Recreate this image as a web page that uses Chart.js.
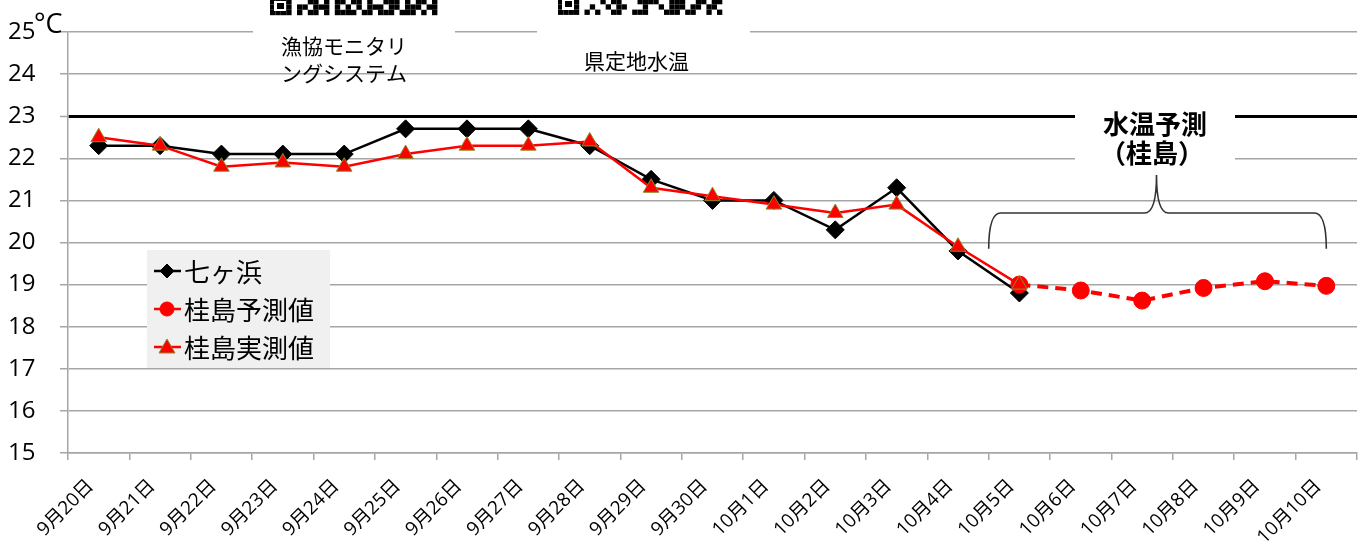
<!DOCTYPE html>
<html><head><meta charset="utf-8">
<script src="https://cdn.jsdelivr.net/npm/chart.js@4"></script>
<style>html,body{margin:0;padding:0;background:#fff}#wrap{width:1367px;height:552px}</style>
</head><body><div id="wrap"><canvas id="c" width="1367" height="552"></canvas></div>
<script>
const categories = ['9月20日','9月21日','9月22日','9月23日','9月24日','9月25日','9月26日','9月27日','9月28日','9月29日','9月30日','10月1日','10月2日','10月3日','10月4日','10月5日','10月6日','10月7日','10月8日','10月9日','10月10日'];
const shichigahama = [22.3,22.3,22.1,22.1,22.1,22.7,22.7,22.7,22.3,21.5,21.0,21.0,20.3,21.3,19.8,18.8,null,null,null,null,null];
const katsurashimaForecast = [null,null,null,null,null,null,null,null,null,null,null,null,null,null,null,19.0,18.86,18.62,18.92,19.08,18.97];
const katsurashimaObserved = [22.5,22.3,21.8,21.9,21.8,22.1,22.3,22.3,22.4,21.3,21.1,20.9,20.7,20.9,19.9,19.0,null,null,null,null,null];
const yTicks = [15,16,17,18,19,20,21,22,23,24,25];
const seriesNames = ['七ヶ浜','桂島予測値','桂島実測値'];

const FONT = "'Open Sans','Noto Sans CJK JP',sans-serif";
const JP = "'Noto Sans CJK JP','Noto Sans',sans-serif";
const GRID = '#a6a6a6';

function qr(ctx, x0, rows, mod) {
  ctx.fillStyle = '#000';
  rows.forEach((r, j) => {
    for (let i = 0; i < r.length; i++) if (r[i] === '1') ctx.fillRect(x0 + i*mod, j*mod - 1, mod, mod);
  });
}

const deco = {
  id: 'deco',
  beforeDatasetsDraw(chart) {
    const ctx = chart.ctx, x = chart.scales.x, y = chart.scales.y;
    ctx.save();
    ctx.fillStyle = '#fff';
    ctx.fillRect(253, 0, 202, 40);
    ctx.fillRect(537, 0, 213, 40);
    ctx.fillRect(1075, 100, 160, 70);
    qr(ctx, 270, ['1111000110101101101001110101101','1001011011101010101110110111011','1111010110101111011011101110101'], 5.4);
    qr(ctx, 558, ['1111000010110001111001110011011','1001001001011000100101110110110','1111010100110011100011101100101'], 5.3);
    ctx.fillStyle='#fff';
    ctx.fillRect(274,1,12,10);ctx.fillStyle='#000';ctx.fillRect(277,3,7,6);
    ctx.fillStyle='#fff';ctx.fillRect(562,0,12,10);ctx.fillStyle='#000';ctx.fillRect(565,1,7,6);
    ctx.fillStyle = '#000';
    ctx.textBaseline = 'middle';
    ctx.textAlign = 'left';
    ctx.font = `21px ${JP}`;
    ctx.fillText('漁協モニタリ', 281, 46);
    ctx.fillText('ングシステム', 281, 73);
    ctx.fillText('県定地水温', 584, 61);
    ctx.textAlign = 'center';
    ctx.font = `bold 26px ${JP}`;
    ctx.fillText('水温予測', 1155, 124);
    ctx.fillText('（桂島）', 1152, 153);
    ctx.textAlign = 'left';
    ctx.textBaseline = 'alphabetic';
    ctx.font = `27px ${FONT}`;
    ctx.fillText('°C', 34, 33);
    const xl = (x.getPixelForValue(14) + x.getPixelForValue(15)) / 2;
    const xr = x.getPixelForValue(20);
    const xm = (xl + xr) / 2 - 1;
    const yb = y.getPixelForValue(19.85), yt = y.getPixelForValue(20.7), yp = 175;
    ctx.strokeStyle = '#333'; ctx.lineWidth = 1.6;
    ctx.beginPath();
    ctx.moveTo(xl, yb);
    ctx.quadraticCurveTo(xl, yt, xl + 12, yt);
    ctx.lineTo(xm - 12, yt);
    ctx.quadraticCurveTo(xm, yt, xm, yp);
    ctx.quadraticCurveTo(xm, yt, xm + 12, yt);
    ctx.lineTo(xr - 12, yt);
    ctx.quadraticCurveTo(xr, yt, xr, yb);
    ctx.stroke();
    ctx.fillStyle = '#f0f0f0';
    ctx.fillRect(147, 250, 183, 118);
    const rows = [271, 309, 347];
    chart.data.datasets.forEach((ds, i) => {
      const yy = rows[i];
      ctx.strokeStyle = ds.borderColor; ctx.lineWidth = 2.5; ctx.setLineDash([]);
      ctx.beginPath(); ctx.moveTo(154, yy); ctx.lineTo(181, yy); ctx.stroke();
      ctx.fillStyle = ds.pointBackgroundColor; ctx.strokeStyle = ds.pointBorderColor; ctx.lineWidth = 1;
      ctx.beginPath();
      if (ds.pointStyle === 'rectRot') { ctx.moveTo(167, yy-7); ctx.lineTo(174, yy); ctx.lineTo(167, yy+7); ctx.lineTo(160, yy); }
      else if (ds.pointStyle === 'triangle') { ctx.moveTo(167, yy-8); ctx.lineTo(175, yy+6); ctx.lineTo(159, yy+6); }
      else { ctx.arc(167, yy, 7, 0, Math.PI*2); }
      ctx.closePath(); ctx.fill(); ctx.stroke();
      ctx.fillStyle = '#000'; ctx.font = `26px ${JP}`; ctx.textAlign = 'left'; ctx.textBaseline = 'middle';
      ctx.fillText(ds.label, 184, yy + 1);
    });
    ctx.restore();
  }
};

new Chart(document.getElementById('c'), {
  type: 'line',
  data: {
    labels: categories,
    datasets: [
      { label: seriesNames[0], data: shichigahama, borderColor: '#000', backgroundColor: '#000', borderWidth: 2.5,
        pointStyle: 'rectRot', pointRadius: 9, pointBackgroundColor: '#000', pointBorderColor: '#000', pointBorderWidth: 1, order: 3, tension: 0, spanGaps: false },
      { label: seriesNames[1], data: katsurashimaForecast, borderColor: '#ff0000', backgroundColor: '#ff0000', borderWidth: 4, borderDash: [11, 7],
        pointStyle: 'circle', pointRadius: 8.5, pointBackgroundColor: '#ff0000', pointBorderColor: '#ff0000', pointBorderWidth: 1, order: 2, tension: 0 },
      { label: seriesNames[2], data: katsurashimaObserved, borderColor: '#ff0000', backgroundColor: '#ff0000', borderWidth: 2.5,
        pointStyle: 'triangle', pointRadius: 9, pointBackgroundColor: '#ff0000', pointBorderColor: '#8a8a2a', pointBorderWidth: 1, order: 1, tension: 0 }
    ]
  },
  options: {
    responsive: false, animation: false, devicePixelRatio: 1,
    layout: { padding: { top: 32, right: 8, left: 8, bottom: 0 } },
    plugins: { legend: { display: false }, tooltip: { enabled: false } },
    scales: {
      x: {
        offset: true,
        grid: { offset: true, drawOnChartArea: false, color: GRID, lineWidth: 1.5, tickLength: 7 },
        border: { color: GRID, width: 1.5 },
        ticks: { maxRotation: 45, minRotation: 45, autoSkip: false, font: { family: FONT, size: 19 }, color: '#000', labelOffset: -8, padding: 15 },
        afterFit(s) { s.height = 99; }
      },
      y: {
        min: 15, max: 25,
        afterBuildTicks(s) { s.ticks = yTicks.map(v => ({ value: v })); },
        grid: { color: c => c.tick && c.tick.value === 23 ? '#000' : GRID, lineWidth: c => c.tick && c.tick.value === 23 ? 3 : 1.5,
          tickColor: GRID, tickWidth: 1.5, tickLength: 8 },
        border: { color: GRID, width: 1.5 },
        ticks: { font: { family: FONT, size: 24 }, color: '#000', padding: 0, crossAlign: 'far' },
        afterFit(s) { s.width = 60; }
      }
    }
  },
  plugins: [deco]
});
</script></body></html>
